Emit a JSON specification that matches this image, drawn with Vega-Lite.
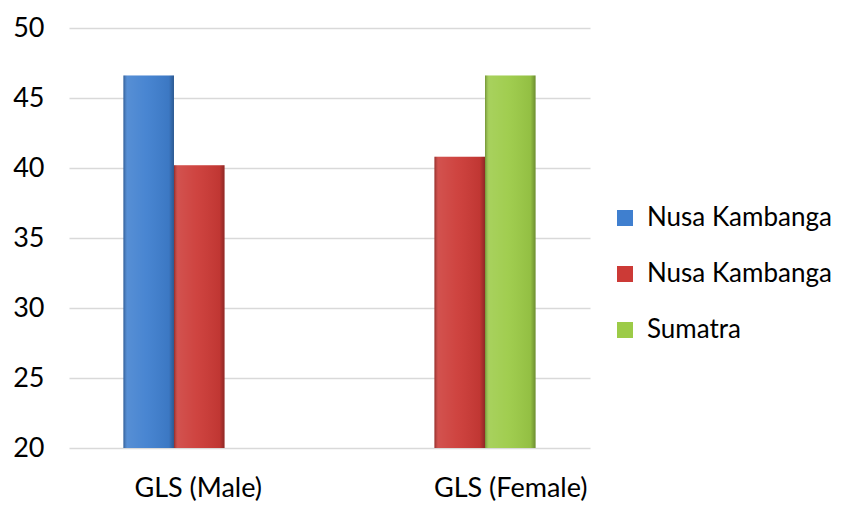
{
  "$schema": "https://vega.github.io/schema/vega-lite/v6.json",
  "autosize": "none",
  "padding": {"left": 69, "top": 28, "right": 262, "bottom": 60},
  "width": 521,
  "height": 420,
  "background": "white",
  "view": {"stroke": null},
  "data": {
    "values": [
      {"group": "GLS (Male)", "series": "Nusa Kambanga A", "value": 46.6},
      {"group": "GLS (Male)", "series": "Nusa Kambanga B", "value": 40.2},
      {"group": "GLS (Female)", "series": "Nusa Kambanga B", "value": 40.8},
      {"group": "GLS (Female)", "series": "Sumatra", "value": 46.6}
    ]
  },
  "encoding": {
    "x": {
      "field": "group",
      "type": "nominal",
      "sort": ["GLS (Male)", "GLS (Female)"],
      "scale": {"paddingInner": 0.418, "paddingOuter": 0.209},
      "axis": {
        "title": null,
        "labelAngle": 0,
        "domain": false,
        "ticks": false,
        "labelPadding": 27,
        "labelFontSize": 27,
        "labelFont": "Lato",
        "labelColor": "#000000",
        "labelOffset": {"condition": {"test": "datum.value == 'GLS (Female)'", "value": 51}, "value": -1}
      }
    },
    "xOffset": {
      "field": "series",
      "type": "nominal",
      "sort": ["Nusa Kambanga A", "Nusa Kambanga B", "Sumatra"],
      "scale": {"paddingInner": 0, "paddingOuter": 0}
    },
    "y": {
      "field": "value",
      "type": "quantitative",
      "scale": {"domain": [20, 50], "nice": false, "zero": false},
      "axis": {
        "title": null,
        "values": [20, 25, 30, 35, 40, 45, 50],
        "domain": false,
        "ticks": false,
        "labelPadding": 25,
        "labelFontSize": 27,
        "labelFont": "Lato",
        "labelColor": "#000000",
        "gridColor": "#d9d9d9",
        "gridWidth": 1.5
      }
    }
  },
  "layer": [
    {
      "mark": {"type": "bar", "clip": true},
      "encoding": {
        "color": {
          "field": "series",
          "type": "nominal",
          "sort": ["Nusa Kambanga A", "Nusa Kambanga B", "Sumatra"],
          "scale": {
            "domain": ["Nusa Kambanga A", "Nusa Kambanga B", "Sumatra"],
            "range": ["#3f7fcf", "#cc3a36", "#9ccb47"]
          },
          "legend": {
            "title": null,
            "orient": "none",
            "legendX": 543,
            "legendY": 177,
            "symbolType": "square",
            "symbolSize": 256,
            "symbolStrokeWidth": 0,
            "rowPadding": 30,
            "labelFontSize": 26,
            "labelFont": "Lato",
            "labelColor": "#000000",
            "labelOffset": 9,
            "labelLimit": 300,
            "labelExpr": "datum.label == 'Sumatra' ? 'Sumatra' : 'Nusa Kambanga'"
          }
        }
      }
    },
    {
      "mark": {
        "type": "bar",
        "clip": true,
        "color": {
          "gradient": "linear",
          "x1": 0, "x2": 1, "y1": 0, "y2": 0,
          "stops": [
            {"offset": 0, "color": "rgba(0,0,0,0.28)"},
            {"offset": 0.08, "color": "rgba(255,255,255,0.12)"},
            {"offset": 0.45, "color": "rgba(255,255,255,0.05)"},
            {"offset": 0.9, "color": "rgba(0,0,0,0.06)"},
            {"offset": 1, "color": "rgba(0,0,0,0.3)"}
          ]
        }
      },
      "encoding": {
        "detail": {"field": "series"}
      }
    }
  ]
}
